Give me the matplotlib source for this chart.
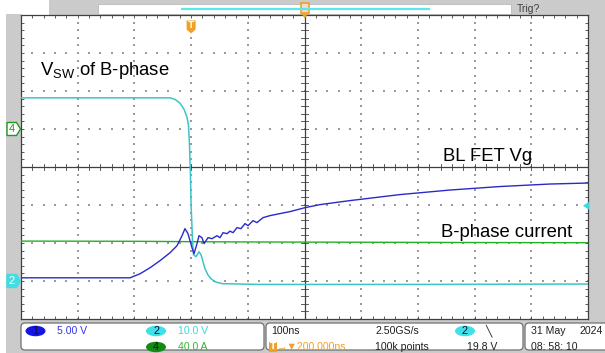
import matplotlib
matplotlib.use("Agg")
import matplotlib.pyplot as plt
from matplotlib.patches import Rectangle, FancyBboxPatch, Polygon, Ellipse
import numpy as np

# ---- acquisition settings ----
time_per_div = 100.0          # ns/div
n_hdiv, n_vdiv = 10, 8
trig_div = 3                  # trigger point, divisions from the left edge
ch1_scale, ch1_offset = 5.0, -3.0    # V/div, position (div)
ch2_scale, ch2_offset = 10.0, -3.0   # V/div, position (div)
ch4_scale, ch4_offset = 40.0, 1.0    # A/div, position (div)
trig_level = 19.8                    # V on CH2

# ---- CH1: BL FET gate voltage (V) ----
ch1_t = [-300, -107.8, -90.1, -72.5, -54.9, -37.2, -24.9, -16.0, -10.8, -5.5,
         1.6, 5.1, 10.4, 13.9, 19.2, 22.8, 29.8, 36.9, 45.7, 51.0, 56.3, 63.3,
         68.6, 73.9, 80.9, 88.0, 95.1, 100.4, 109.2, 116.2, 126.8, 139.2, 156.8,
         174.4, 200.9, 227.3, 280.2, 368.4, 456.6, 544.8, 633.0, 700]
ch1_v = [0.42, 0.42, 0.95, 1.74, 2.67, 3.72, 4.64, 5.96, 6.89, 6.23,
         4.38, 3.59, 4.91, 5.96, 5.70, 4.91, 5.70, 5.57, 5.96, 5.70, 6.36, 6.23,
         6.56, 6.36, 7.02, 6.89, 7.55, 7.28, 7.94, 7.68, 8.34, 8.60, 8.87,
         9.13, 9.65, 10.05, 10.58, 11.37, 11.97, 12.43, 12.76, 12.89]

# ---- CH2: switch node voltage V_SW (V) ----
ch2_t = [-300, -37.2, -28.4, -19.6, -12.5, -7.2, -4.6, -2.8, -1.1, 0.0, 1.2,
         2.5, 4.2, 8.6, 13.9, 17.5, 21.0, 24.5, 29.8, 35.1, 42.2, 54.5, 121.5,
         400, 700]
ch2_v = [48.2, 48.2, 47.8, 46.8, 45.2, 43.1, 41.0, 35.7, 27.8, 19.8, 15.5,
         10.6, 6.9, 6.4, 7.7, 6.9, 5.1, 3.2, 1.6, 0.6, -0.2, -0.7, -0.9,
         -0.9, -0.8]

# ---- CH4: phase current (A) ----
ch4_t = [-300, -100, 0, 100, 300, 500, 700]
ch4_i = [-118.0, -118.2, -118.6, -118.9, -119.2, -119.5, -119.7]

# ---- colours ----
C_BLUE = "#2a2ac8"
C_CYAN = "#3cc4c8"
C_GREEN = "#22b022"
C_GREY = "#cbcbcb"
C_ORANGE = "#f0a028"
C_GRID = "#9a9a9a"
C_AXIS = "#404040"

W, H = 605, 353
fig = plt.figure(figsize=(W / 100, H / 100), dpi=100)
fig.patch.set_facecolor("white")

# pixel-space layer for the instrument frame
bg = fig.add_axes([0, 0, 1, 1])
bg.set_xlim(0, W)
bg.set_ylim(H, 0)
bg.axis("off")

# plot area (pixels)
PL, PR, PT, PB = 21, 588, 15, 319

bg.add_patch(Rectangle((6, 14), PL - 6, H - 14, color=C_GREY, lw=0))
bg.add_patch(Rectangle((49, 0), W - 49, PT, color=C_GREY, lw=0))
bg.add_patch(Rectangle((PR, 0), W - PR, H, color=C_GREY, lw=0))
bg.add_patch(Rectangle((6, PB), W - 6, H - PB, color=C_GREY, lw=0))

sfont = ["Liberation Sans", "DejaVu Sans"]

# record overview strip
bg.add_patch(Rectangle((98, 3.5), 413, 10, facecolor="white", edgecolor="#b0b0b0", lw=0.5))
bg.plot([181, 430], [9, 9], color="#5ee6ee", lw=1.6, solid_capstyle="butt")
bg.add_patch(Rectangle((301, 3), 7.5, 10, facecolor="#e8e0d0", edgecolor=C_ORANGE, lw=1.2))
bg.text(517, 8.5, "Trig?", fontsize=7.5, color="#404040", va="center", ha="left", family=sfont)

# ---- waveform graticule ----
t0 = -trig_div * time_per_div
t1 = t0 + n_hdiv * time_per_div
ax = fig.add_axes([PL / W, 1 - PB / H, (PR - PL) / W, (PB - PT) / H])
ax.set_xlim(t0, t1)
ax.set_ylim(-n_vdiv / 2, n_vdiv / 2)
ax.set_facecolor("white")
for s in ax.spines.values():
    s.set_color(C_AXIS)
    s.set_linewidth(0.9)
ax.set_xticks(np.arange(t0, t1 + 1, time_per_div / 5))
ax.set_yticks(np.arange(-4, 4.01, 0.2))
ax.tick_params(direction="in", length=2.4, width=0.6, color=C_AXIS, top=True, right=True,
               labelbottom=False, labelleft=False)

center_t = t0 + n_hdiv / 2 * time_per_div
minor_t = np.arange(t0, t1 + 1, time_per_div / 5)
minor_y = np.arange(-4, 4.01, 0.2)
for k in range(1, n_hdiv):
    tk = t0 + k * time_per_div
    if abs(tk - center_t) < 1e-6:
        continue
    ax.scatter(np.full(minor_y.size, tk), minor_y, s=0.8, marker="s", color=C_GRID, lw=0, zorder=1)
for yk in range(-3, 4):
    if yk == 0:
        continue
    ax.scatter(minor_t, np.full(minor_t.size, yk), s=0.8, marker="s", color=C_GRID, lw=0, zorder=1)

ax.axhline(0, color=C_AXIS, lw=0.9, zorder=2)
ax.axvline(center_t, color=C_AXIS, lw=0.9, zorder=2)
tick_dt = 5.5
for tt in minor_t:
    ax.plot([tt, tt], [-0.08, 0.08], color=C_AXIS, lw=0.6, zorder=2)
for yy in minor_y:
    ax.plot([center_t - tick_dt, center_t + tick_dt], [yy, yy], color=C_AXIS, lw=0.6, zorder=2)

# ---- traces ----
def to_div(vals, scale, offset):
    return np.asarray(vals) / scale + offset

ax.plot(ch4_t, to_div(ch4_i, ch4_scale, ch4_offset), color=C_GREEN, lw=1.0, zorder=3)
ax.plot(ch2_t, to_div(ch2_v, ch2_scale, ch2_offset), color=C_CYAN, lw=1.1, zorder=4)
ax.plot(ch1_t, to_div(ch1_v, ch1_scale, ch1_offset), color=C_BLUE, lw=1.0, zorder=5)

lab = dict(fontsize=13.3, color="black", family="Liberation Sans", zorder=6)
ax.text(-267, 2.43, r"$\mathregular{V_{SW}}$ of B-phase", va="baseline", ha="left", **lab)
ax.text(444, 0.15, "BL FET Vg", va="baseline", ha="left", **lab)
ax.text(440, -1.85, "B-phase current", va="baseline", ha="left", **lab)

# overlay layer for markers that sit on top of the graticule
fg = fig.add_axes([0, 0, 1, 1])
fg.set_xlim(0, W)
fg.set_ylim(H, 0)
fg.axis("off")
fg.patch.set_alpha(0)

def px_y(div):
    return PT + (n_vdiv / 2 - div) / n_vdiv * (PB - PT)

def px_x(t):
    return PL + (t - t0) / (t1 - t0) * (PR - PL)

# position marker under the overview strip
fg.add_patch(Polygon([[301.5, 13.5], [308, 13.5], [304.8, 18.5]], closed=True, color=C_ORANGE, lw=0))

# trigger level marker (right edge)
ty = px_y(to_div(trig_level, ch2_scale, ch2_offset))
fg.add_patch(Polygon([[PR - 5, ty], [PR + 1, ty - 4], [PR + 1, ty + 4]], closed=True,
                     color="#38d8e0", lw=0))

# trigger time marker (top)
tx = px_x(0.0)
fg.add_patch(Polygon([[tx - 4.5, 20.5], [tx + 4.5, 20.5], [tx + 4.5, 29.5], [tx, 33.5], [tx - 4.5, 29.5]],
                     closed=True, color=C_ORANGE, lw=0))
fg.text(tx, 26, "T", fontsize=6.5, color="#fff2d0", ha="center", va="center", fontweight="bold")

# channel ground markers (left)
def ch_marker(div, label, face, edge, txt):
    y = px_y(div)
    fg.add_patch(Polygon([[7, y - 6.5], [16.5, y - 6.5], [20.5, y], [16.5, y + 6.5], [7, y + 6.5]],
                         closed=True, facecolor=face, edgecolor=edge, lw=1.0))
    fg.text(12, y + 0.5, label, fontsize=8, color=txt, ha="center", va="center", family=sfont)

ch_marker(ch4_offset, "4", "white", "#1f9a1f", "#1f9a1f")
ch_marker(ch2_offset, "2", "#40dde3", "#40dde3", "white")

# ---- status bar ----
def box(x0, x1):
    fg.add_patch(FancyBboxPatch((x0, 323), x1 - x0, 27, boxstyle="round,pad=0,rounding_size=4",
                                facecolor="white", edgecolor="#707070", lw=0.9, zorder=5))

box(21, 264)
box(266, 523)
box(525, 640)

def badge(x, y, label, face):
    fg.add_patch(Ellipse((x, y), 20, 10.5, color=face, lw=0, zorder=6))
    fg.text(x, y + 0.3, label, fontsize=7.8, color="#101030", ha="center", va="center",
            family=sfont, zorder=7)

def stext(x, y, s, color="#202020", size=7.6):
    fg.text(x, y, s, fontsize=size, color=color, ha="left", va="center", family=sfont, zorder=7)

badge(35.5, 331, "1", "#1414e6")
stext(57, 331, "5.00 V", "#3434f0")
badge(156, 331, "2", "#40e0e6")
stext(178, 331, "10.0 V", "#3cd6e0")
badge(156, 347, "4", "#138a13")
stext(178, 347, "40.0 A", "#34b434")

stext(271, 331, "100ns")
fg.add_patch(Rectangle((268.5, 341.5), 8, 10, color=C_ORANGE, lw=0, zorder=6))
fg.text(272.5, 346.8, "T", fontsize=6.5, color="white", ha="center", va="center",
        fontweight="bold", zorder=7)
stext(277, 347, "\u2192\u25bc200.000ns", C_ORANGE)
stext(375, 331, "2.50GS/s")
stext(375, 347, "100k points")
badge(465, 331, "2", "#40e0e6")
stext(485, 331, "\u2572")
stext(467, 347, "19.8 V")
stext(531, 331, "31 May")
stext(580, 331, "2024")
stext(531, 347, "08: 58: 10")

fig.savefig("out.png", dpi=100, facecolor="white")
